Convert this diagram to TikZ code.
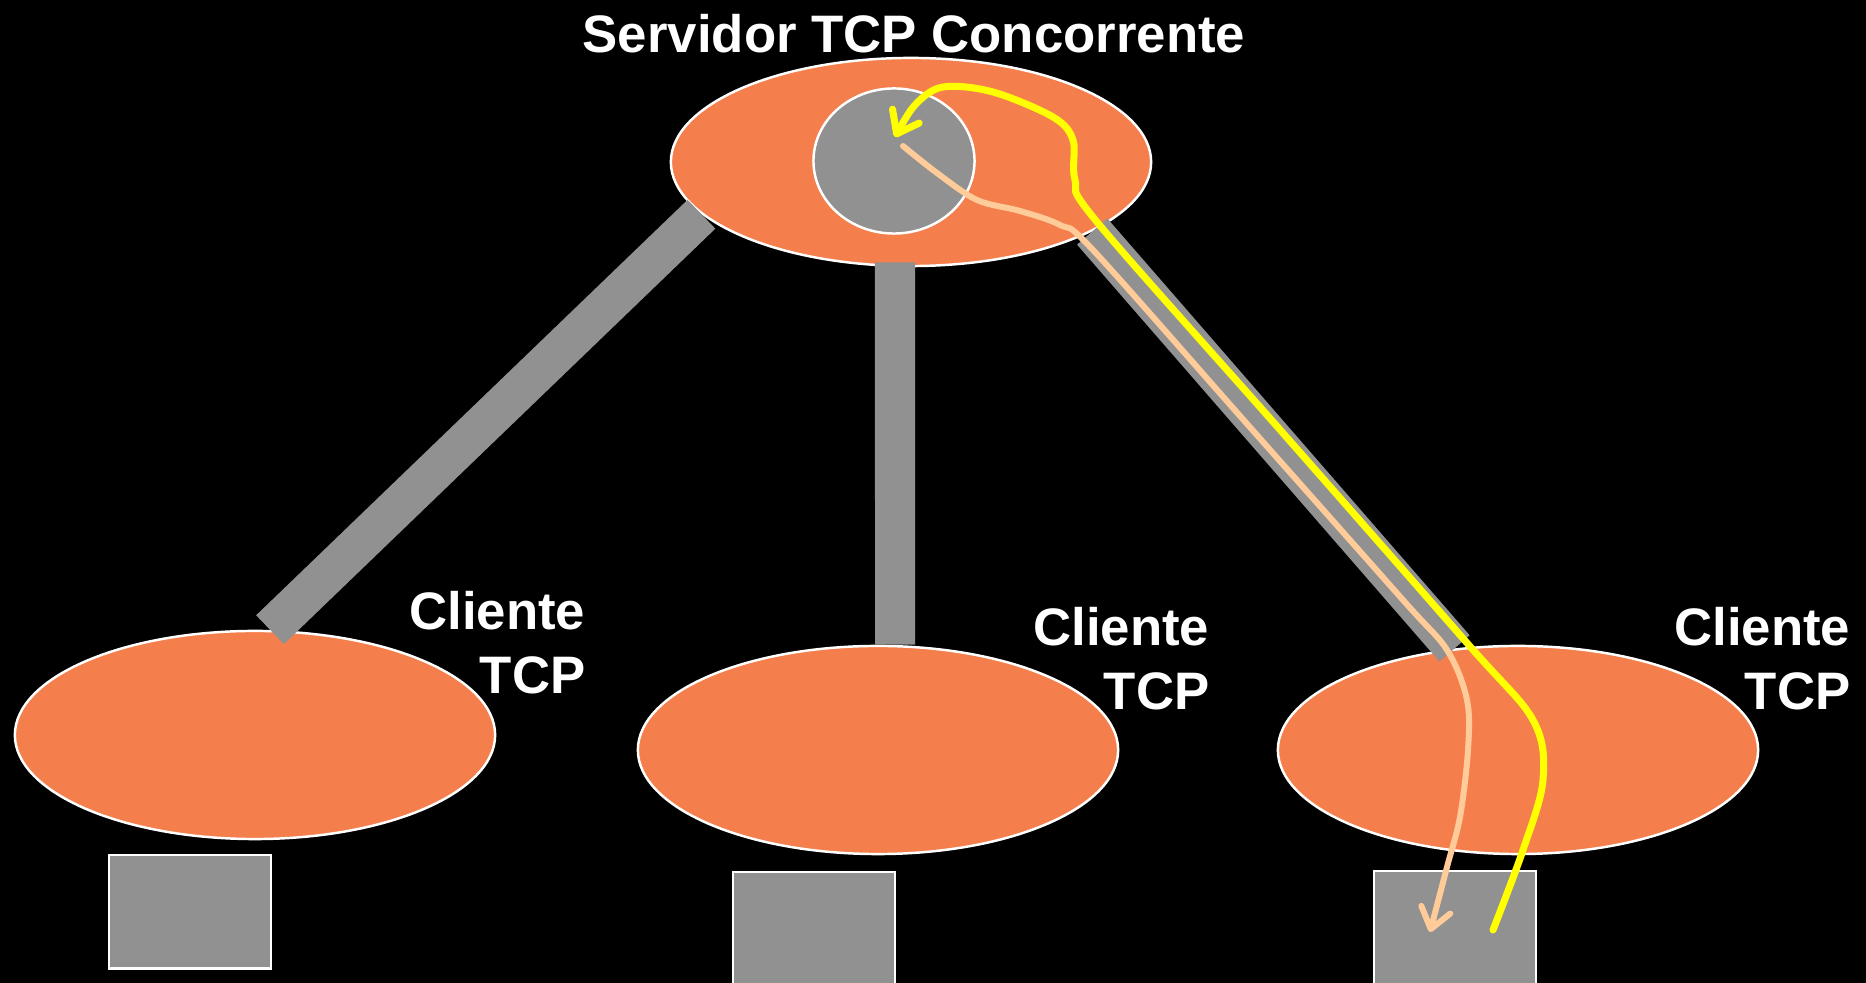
\documentclass[tikz,border=0pt]{standalone}
\usepackage{fontspec}
\setmainfont{Liberation Sans}
\usepackage{xcolor}
\usepackage{tikz}
\usetikzlibrary{shapes.geometric}
\usetikzlibrary{arrows.meta}

\definecolor{laranja}{RGB}{244,127,76}
\definecolor{cinza}{RGB}{145,145,145}
\definecolor{pessego}{RGB}{255,204,153}
\definecolor{amarelo}{RGB}{255,255,0}

\begin{document}
\begin{tikzpicture}[x=0.01cm,y=-0.01cm,
	host/.style={ellipse,fill=laranja,draw=white,line width=0.7pt,minimum width=4.8cm,minimum height=2.08cm,inner sep=0pt},
	caixa/.style={rectangle,fill=cinza,draw=white,line width=0.7pt,minimum width=1.62cm,minimum height=1.13cm,inner sep=0pt},
	cabo/.style={cinza,line width=0.4cm},
	rotulo/.style={text=white,font=\fontsize{15}{18}\selectfont\bfseries,inner sep=0pt,align=right},
	fluxo/.style={line cap=round,line join=round,-{Straight Barb[length=2mm,width=3mm,round]}}]

\fill[black] (0,0) rectangle (1866,983);				% fundo
\useasboundingbox (0,0) rectangle (1866,983);
\clip (0,0) rectangle (1866,983);

\node[host] (srv) at (911,162) {};						% servidor
\node[host] (cliA) at (255,735) {};						% cliente 1
\node[host] (cliB) at (878,750) {};						% cliente 2
\node[host] (cliC) at (1518,750) {};					% cliente 3

\draw[cabo] (srv.194) -- ([xshift=0.15cm]cliA.north);				% ligacao 1
\draw[cabo] ([xshift=-0.16cm,yshift=0.05cm]srv.south) -- ([xshift=0.17cm]cliB.north);	% ligacao 2
\draw[cabo] (srv.339) -- (cliC.122);							% ligacao 3

\node[ellipse,fill=cinza,draw=white,line width=0.7pt,minimum width=1.61cm,minimum height=1.45cm] (sock) at (894,161) {};	% socket

\node[caixa,anchor=north] (boxA) at (190,854) {};
\node[caixa,anchor=north] (boxB) at (814,871) {};
\node[caixa,anchor=north] (boxC) at (1455,870) {};

\node[rotulo,anchor=base] (titulo) at (914,53) {Servidor TCP Concorrente};
\node[rotulo,anchor=north east] (labA) at (586,591) {Cliente\\TCP};
\node[rotulo,anchor=north east] (labB) at (1210,607) {Cliente\\TCP};
\node[rotulo,anchor=north east] (labC) at (1851,607) {Cliente\\TCP};

\coordinate (pIni) at (903,146);
\coordinate (pFim) at (1430,932);
\coordinate (aIni) at (1493,930);
\coordinate (aFim) at (895,137);

\draw[pessego,line width=1.7pt,fluxo] plot[smooth,tension=0.55] coordinates {(pIni) (937,173) (977,200) (1020,211) (1060,225) (1093,250) (1248,425) (1403,600) (1447,650) (1467,700) (1468,750) (1460,817) (1447,867) (pFim)};	% resposta
\draw[amarelo,line width=2pt,fluxo] plot[smooth,tension=0.55] coordinates {(aIni) (1523,850) (1543,780) (1533,720) (1467,643) (1282,432) (1097,222) (1075,180) (1073,140) (1053,117) (993,92) (943,87) (915,105) (aFim)};	% pedido

\end{tikzpicture}
\end{document}
